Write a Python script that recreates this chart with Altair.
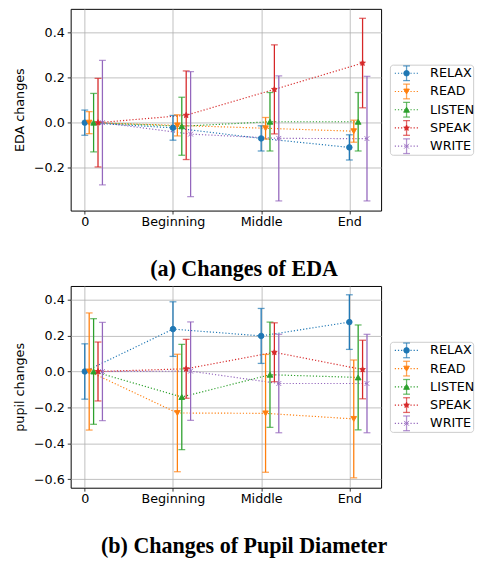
import math
import altair as alt
import pandas as pd

# ---------------- data ----------------
phases = ["0", "Beginning", "Middle", "End"]
series = ["RELAX", "READ", "LISTEN", "SPEAK", "WRITE"]
colors = ["#1f77b4", "#ff7f0e", "#2ca02c", "#d62728", "#9467bd"]

eda_relax = [0.0, -0.023, -0.070, -0.110]
eda_read = [0.0, -0.012, -0.025, -0.038]
eda_listen = [0.0, -0.016, 0.004, 0.004]
eda_speak = [0.0, 0.033, 0.148, 0.265]
eda_write = [0.0, -0.051, -0.070, -0.071]

eda_relax_err = [0.056, 0.055, 0.056, 0.056]
eda_read_err = [0.049, 0.047, 0.048, 0.049]
eda_listen_err = [0.130, 0.129, 0.130, 0.130]
eda_speak_err = [0.197, 0.197, 0.198, 0.199]
eda_write_err = [0.277, 0.278, 0.278, 0.277]

pupil_relax = [0.0, 0.236, 0.198, 0.275]
pupil_read = [0.0, -0.231, -0.233, -0.264]
pupil_listen = [0.0, -0.142, -0.018, -0.033]
pupil_speak = [0.0, 0.015, 0.107, 0.011]
pupil_write = [0.0, 0.002, -0.067, -0.067]

pupil_relax_err = [0.154, 0.152, 0.153, 0.152]
pupil_read_err = [0.326, 0.327, 0.328, 0.328]
pupil_listen_err = [0.294, 0.293, 0.293, 0.292]
pupil_speak_err = [0.164, 0.164, 0.164, 0.163]
pupil_write_err = [0.274, 0.274, 0.274, 0.274]

eda_ticks = [-0.2, 0.0, 0.2, 0.4]
pupil_ticks = [-0.6, -0.4, -0.2, 0.0, 0.2, 0.4]

# ---------------- tables ----------------
OFFSET = 0.05


def build(means, errs):
    rows = []
    for si, (s, m, e) in enumerate(zip(series, means, errs)):
        for pi, (mv, ev) in enumerate(zip(m, e)):
            rows.append({"series": s, "order": si, "xpos": pi + OFFSET * si,
                         "mean": mv, "lo": mv - ev, "hi": mv + ev})
    return pd.DataFrame(rows)


eda_df = build([eda_relax, eda_read, eda_listen, eda_speak, eda_write],
               [eda_relax_err, eda_read_err, eda_listen_err, eda_speak_err, eda_write_err])
pupil_df = build([pupil_relax, pupil_read, pupil_listen, pupil_speak, pupil_write],
                 [pupil_relax_err, pupil_read_err, pupil_listen_err, pupil_speak_err, pupil_write_err])

# ---------------- styles ----------------
star = []
for k in range(10):
    r = 1.0 if k % 2 == 0 else 0.42
    a = -math.pi / 2 + k * math.pi / 5
    star.append(f"{r * math.cos(a):.3f},{r * math.sin(a):.3f}")
star_path = "M" + "L".join(star) + "Z"
x_path = "M-0.8,-0.8L0.8,0.8M-0.8,0.8L0.8,-0.8"
shapes = ["circle", "triangle-down", "triangle-up", star_path, x_path]
sizes = [32, 38, 38, 55, 32]

color_scale = alt.Scale(domain=series, range=colors)
shape_scale = alt.Scale(domain=series, range=shapes)
size_scale = alt.Scale(domain=series, range=sizes)

label_expr = "[" + ",".join(f"'{p}'" for p in phases) + "][datum.value]"
PW, PH = 317, 206
FS = 13


def make_plot(df, ytitle, ydomain, yticks):
    base = alt.Chart(df)
    xenc = alt.X("xpos:Q", scale=alt.Scale(domain=[-0.16, 3.36], nice=False, zero=False),
                 axis=alt.Axis(values=[0, 1, 2, 3], labelExpr=label_expr, title=None, labelPadding=1.5))
    ysc = alt.Scale(domain=ydomain, nice=False, zero=False)
    yaxis = alt.Axis(values=yticks, format=".1f", title=ytitle)
    col = alt.Color("series:N", scale=color_scale, legend=None)
    lines = base.mark_line(strokeDash=[1.2, 2], strokeWidth=1.2).encode(
        x=xenc, y=alt.Y("mean:Q", scale=ysc, axis=yaxis), color=col, order="xpos:Q")
    bars = base.mark_rule(strokeWidth=1.3).encode(
        x=xenc, y=alt.Y("lo:Q", scale=ysc, axis=yaxis), y2="hi:Q", color=col)
    cap_t = base.mark_tick(orient="horizontal", size=7, thickness=1.3).encode(
        x=xenc, y=alt.Y("hi:Q", scale=ysc, axis=yaxis), color=col)
    cap_b = base.mark_tick(orient="horizontal", size=7, thickness=1.3).encode(
        x=xenc, y=alt.Y("lo:Q", scale=ysc, axis=yaxis), color=col)
    pts = base.mark_point(filled=True, opacity=1, strokeWidth=0.9).encode(
        x=xenc, y=alt.Y("mean:Q", scale=ysc, axis=yaxis), color=col,
        stroke=alt.Stroke("series:N", scale=color_scale, legend=None),
        shape=alt.Shape("series:N", scale=shape_scale, legend=None),
        size=alt.Size("series:N", scale=size_scale, legend=None))
    return alt.layer(lines, bars, cap_t, cap_b, pts).properties(
        width=PW, height=PH, view=alt.ViewBackground(stroke="black", strokeWidth=1))


def make_legend():
    ldf = pd.DataFrame({"series": series})
    base = alt.Chart(ldf)
    ly = alt.Y("series:N", scale=alt.Scale(type="point", domain=series, padding=0.47), axis=None)
    col = alt.Color("series:N", scale=color_scale, legend=None)
    lrule = base.mark_rule(strokeDash=[1.2, 2], strokeWidth=1.2).encode(
        x=alt.value(5), x2=alt.value(29), y=ly, color=col)
    lbar = base.mark_tick(orient="vertical", size=15, thickness=1.3).encode(
        x=alt.value(17), y=ly, color=col)
    lcap_t = base.mark_tick(orient="horizontal", size=7, thickness=1.3, yOffset=-7.5).encode(
        x=alt.value(17), y=ly, color=col)
    lcap_b = base.mark_tick(orient="horizontal", size=7, thickness=1.3, yOffset=7.5).encode(
        x=alt.value(17), y=ly, color=col)
    lpt = base.mark_point(filled=True, opacity=1, strokeWidth=0.9).encode(
        x=alt.value(17), y=ly, color=col,
        stroke=alt.Stroke("series:N", scale=color_scale, legend=None),
        shape=alt.Shape("series:N", scale=shape_scale, legend=None),
        size=alt.Size("series:N", scale=size_scale, legend=None))
    ltext = base.mark_text(align="left", baseline="middle", fontSize=FS, font="DejaVu Sans",
                           color="black").encode(x=alt.value(41), y=ly, text="series:N")
    legend = alt.layer(lrule, lbar, lcap_t, lcap_b, lpt, ltext).properties(
        width=85, height=92,
        view=alt.ViewBackground(stroke="#cccccc", strokeWidth=1, cornerRadius=3))
    spacer = alt.Chart(ldf).mark_point(opacity=0, size=1).encode(
        x=alt.value(20), y=alt.value(20)).properties(
        width=85, height=55, view=alt.ViewBackground(stroke="transparent"))
    return alt.vconcat(spacer, legend, spacing=0).resolve_scale(x="independent", y="independent")


def make_row(df, ytitle, ydomain, yticks, caption):
    return alt.hconcat(make_plot(df, ytitle, ydomain, yticks), make_legend(), spacing=7).resolve_scale(
        x="independent", y="independent").properties(
        title=alt.TitleParams(text=caption, orient="bottom", anchor="middle", font="Liberation Serif",
                              fontSize=22.5, fontWeight="bold", color="black", offset=30))


row_a = make_row(eda_df, "EDA changes", [-0.391, 0.506], eda_ticks, "(a) Changes of EDA")
row_b = make_row(pupil_df, "pupil changes", [-0.647, 0.476], pupil_ticks, "(b) Changes of Pupil Diameter")

chart = alt.vconcat(row_a, row_b, spacing=5).resolve_scale(
    x="independent", y="independent").properties(
    padding={"left": 5, "top": -6, "right": 5, "bottom": 0}).configure_axis(
    labelFont="DejaVu Sans", labelFontSize=FS, labelColor="black",
    titleFont="DejaVu Sans", titleFontSize=FS, titleFontWeight="normal", titleColor="black",
    titlePadding=7, tickColor="black", tickSize=3.5, tickWidth=0.8, labelPadding=3,
    domain=False, grid=True, gridColor="#b0b0b0", gridWidth=0.8).configure_view(strokeWidth=1)

chart.save("out.html", embed_options={"renderer": "svg", "actions": False})
